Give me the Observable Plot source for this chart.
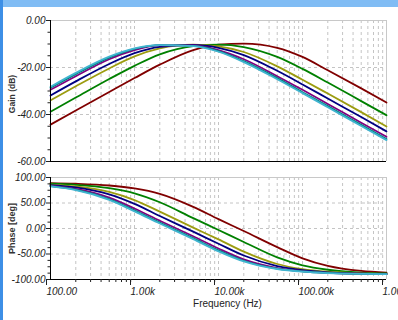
<!DOCTYPE html>
<html><head><meta charset="utf-8">
<script src="https://cdn.jsdelivr.net/npm/d3@7"></script>
<script src="https://cdn.jsdelivr.net/npm/@observablehq/plot@0.6"></script>
<style>
html,body{margin:0;padding:0;background:#fff;}
#wrap{position:relative;width:398px;height:320px;overflow:hidden;background:#fff;}
#topbar{position:absolute;left:0;top:0;width:398px;height:7px;background:#80bcf4;}
#leftbar{position:absolute;left:0;top:0;width:3px;height:320px;background:#3d8fe6;}
#gain{position:absolute;left:0;top:7px;}
#phase{position:absolute;left:0;top:170px;}
g[aria-label="y-axis tick label"], g[aria-label="x-axis tick label"]{font-style:italic;}
</style></head>
<body>
<div id="wrap"><div id="topbar"></div><div id="leftbar"></div><div id="gain"></div><div id="phase"></div></div>
<script>
// Frequencies (Hz) at which the curves were read
const freqs = [100,200,500,1000,2000,5000,10000,20000,50000,100000,200000,500000,1000000];
const names = ["c1","c2","c3","c4","c5","c6","c7"];
const colors = ["#800000","#008000","#9c9c10","#000080","#800080","#008080","#40b4d0"];

// Gain (dB)
const gain1 = [-44.3,-38.3,-30.4,-24.5,-18.8,-12.6,-10.3,-9.8,-11.6,-15.5,-21.2,-28.9,-34.9];
const gain2 = [-38.8,-32.8,-24.9,-19.3,-14.4,-10.9,-10.3,-11.3,-15.5,-20.6,-26.4,-34.3,-40.3];
const gain3 = [-34.0,-28.0,-20.4,-15.3,-11.9,-10.3,-11.0,-13.4,-19.5,-25.2,-31.1,-39.0,-45.1];
const gain4 = [-31.9,-25.9,-18.5,-13.9,-11.2,-10.4,-11.6,-14.7,-21.4,-27.2,-33.2,-41.1,-47.2];
const gain5 = [-29.5,-23.7,-16.5,-12.6,-10.6,-10.6,-12.6,-16.5,-23.7,-29.5,-35.5,-43.5,-49.5];
const gain6 = [-28.6,-22.8,-15.8,-12.1,-10.5,-10.8,-13.0,-17.3,-24.5,-30.5,-36.4,-44.4,-50.4];
const gain7 = [-28.2,-22.3,-15.4,-11.9,-10.5,-10.9,-13.3,-17.7,-25.0,-30.9,-36.9,-44.9,-50.9];

// Phase (deg)
const phase1 = [88.9,87.7,84.3,78.6,67.9,42.4,18.3,-4.9,-36.5,-58.5,-73.3,-83.2,-86.6];
const phase2 = [87.8,85.7,79.2,69.0,51.5,20.3,-2.9,-26.4,-56.6,-72.2,-80.9,-86.4,-88.2];
const phase3 = [86.2,82.5,71.6,55.7,33.0,1.8,-21.4,-45.4,-69.6,-79.6,-84.8,-87.9,-89.0];
const phase4 = [85.2,80.5,66.9,48.3,24.5,-6.2,-29.9,-53.0,-73.8,-81.8,-85.9,-88.4,-89.2];
const phase5 = [83.7,77.5,60.6,39.3,15.3,-15.3,-39.3,-60.6,-77.5,-83.7,-86.9,-88.7,-89.4];
const phase6 = [83.0,76.2,57.8,35.7,11.7,-18.9,-42.9,-63.2,-78.8,-84.3,-87.2,-88.9,-89.5];
const phase7 = [82.6,75.4,56.2,33.7,9.8,-20.8,-44.8,-64.5,-79.4,-84.7,-87.4,-89.0,-89.5];

const gainTicks = [0,-20,-40,-60];
const gainMinor = [-5,-10,-15,-25,-30,-35,-45,-50,-55];
const phaseTicks = [100,50,0,-50,-100];
const phaseMinor = [87.5,75,62.5,37.5,25,12.5,-12.5,-25,-37.5,-62.5,-75,-87.5];
const xTicks = [100,1000,10000,100000,1000000];
const xTickLabels = ["100.00","1.00k","10.00k","100.00k","1.00M"];

const gains = [gain1,gain2,gain3,gain4,gain5,gain6,gain7];
const phases = [phase1,phase2,phase3,phase4,phase5,phase6,phase7];
const gainRows = [], phaseRows = [];
names.forEach((n,i) => freqs.forEach((f,j) => {
  gainRows.push({f, v: gains[i][j], s: n});
  phaseRows.push({f, v: phases[i][j], s: n});
}));
const xMinor = [];
for (const d of [100,1000,10000,100000]) for (let k = 2; k <= 9; k++) xMinor.push(d*k);
const xGrid = xMinor.concat(xTicks);

const font = {fontFamily:"'Liberation Sans Narrow','Liberation Sans',Arial,sans-serif", fontSize:"10px", background:"transparent", overflow:"visible", color:"#222"};
const fmt2 = d => d.toFixed(2);
const color = {type:"ordinal", domain:names, range:colors};
const grid = {stroke:"#c4c4c4", strokeOpacity:1, strokeDasharray:"3,3"};
const ylab = {frameAnchor:"left", textAnchor:"middle", rotate:-90, dx:-38, fontFamily:"'Liberation Sans',Arial,sans-serif", fontWeight:"bold", fill:"#333", letterSpacing:"0.5px"};

const gainPlot = Plot.plot({
  width:398, height:163, marginLeft:50, marginRight:12, marginTop:13, marginBottom:9,
  style:font, color,
  x:{type:"log", domain:[100,1e6], axis:null},
  y:{domain:[-60,0]},
  marks:[
    Plot.gridX(xGrid, grid),
    Plot.gridY([-20,-40], grid),
    Plot.ruleY([0], {stroke:"#c8c8c8"}),
    Plot.ruleX([1e6], {stroke:"#c8c8c8"}),
    Plot.line(gainRows, {x:"f", y:"v", z:"s", stroke:"s", strokeWidth:1.8, curve:"monotone-x"}),
    Plot.ruleY([-60], {stroke:"#000"}),
    Plot.ruleX([100], {stroke:"#000"}),
    Plot.axisY(gainTicks, {tickSize:4, tickPadding:1, tickFormat:fmt2, label:null}),
    Plot.axisY(gainMinor, {tickSize:2.5, tickFormat:() => "", label:null}),
    Plot.text(["Gain (dB)"], {...ylab, fontSize:8.5, dy:3})
  ]
});
document.getElementById("gain").appendChild(gainPlot);

const phasePlot = Plot.plot({
  width:398, height:150, marginLeft:50, marginRight:12, marginTop:7, marginBottom:41,
  style:font, color,
  x:{type:"log", domain:[100,1e6]},
  y:{domain:[-100,100]},
  marks:[
    Plot.gridX(xGrid, grid),
    Plot.gridY([50,0,-50], grid),
    Plot.ruleY([100], {stroke:"#c8c8c8"}),
    Plot.ruleX([1e6], {stroke:"#c8c8c8"}),
    Plot.line(phaseRows, {x:"f", y:"v", z:"s", stroke:"s", strokeWidth:1.8, curve:"monotone-x"}),
    Plot.ruleY([-100], {stroke:"#000"}),
    Plot.ruleX([100], {stroke:"#000"}),
    Plot.axisY(phaseTicks, {tickSize:4, tickPadding:1, tickFormat:fmt2, label:null}),
    Plot.axisY(phaseMinor, {tickSize:2.5, tickFormat:() => "", label:null}),
    Plot.axisX(xTicks, {tickSize:6, tickPadding:2, tickFormat:(d) => xTickLabels[xTicks.indexOf(d)], textAnchor:"start", dx:-4, label:null}),
    Plot.axisX(xMinor, {tickSize:3, tickFormat:() => "", label:null}),
    Plot.text(["Frequency (Hz)"], {frameAnchor:"bottom", dy:27.5, dx:9, fill:"#222"}),
    Plot.text(["Phase [deg]"], {...ylab, fontSize:9})
  ]
});
document.getElementById("phase").appendChild(phasePlot);
</script>
</body></html>
